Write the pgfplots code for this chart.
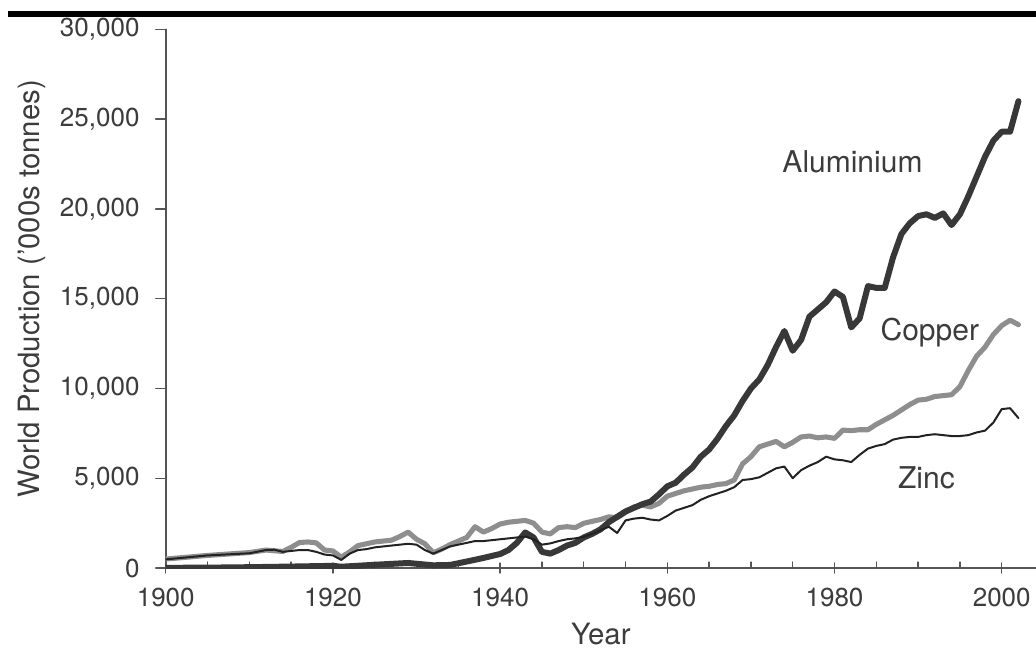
\documentclass[border=0pt]{standalone}
\usepackage{fontspec}
\setmainfont{TeX Gyre Heros}
\usepackage{pgfplots}
\pgfplotsset{compat=1.18}
\definecolor{axisgray}{HTML}{555555}
\definecolor{txtgray}{HTML}{3C3C3C}
\definecolor{alcol}{HTML}{383838}
\definecolor{cucol}{HTML}{8E8E8E}
\definecolor{zncol}{HTML}{222222}
\begin{document}
\begin{tikzpicture}
\useasboundingbox (-124.3pt,-62.25pt) rectangle (652.7pt,426pt);
\fill[black] (-118.3pt,413.5pt) rectangle (660pt,418pt);
\begin{axis}[
  at={(0,0)}, anchor=south west,
  scale only axis, width=652.7pt, height=404pt,
  xmin=1900, xmax=2004.1, ymin=0, ymax=30000,
  axis lines=left,
  axis line style={-, draw=axisgray, line width=1.2pt},
  xtick={1900,1920,...,2000}, minor x tick num=3,
  ytick={0,5000,...,30000},
  scaled y ticks=false, scaled x ticks=false,
  tick style={draw=axisgray, line width=1pt},
  major tick length=7.5pt, minor tick length=4.5pt,
  ytick align=outside, xtick align=center,
  minor x tick style={yshift=2.25pt},
  tick label style={font=\fontsize{19.5}{23}\selectfont, text=txtgray},
  /pgf/number format/assume math mode=true,
  xticklabel style={/pgf/number format/1000 sep=, anchor=north, inner sep=0pt, yshift=-11pt},
  yticklabel style={/pgf/number format/1000 sep={,}, anchor=east, inner sep=0pt, xshift=-12pt},
  xlabel={Year}, ylabel={World Production ('000s tonnes)},
  every axis x label/.style={at={([yshift=-57pt]axis description cs:0.5,0)}, anchor=base, inner sep=0pt, font=\fontsize{22}{26}\selectfont, text=txtgray},
  every axis y label/.style={at={([xshift=-94.3pt,yshift=7.3pt]axis description cs:0,0.5)}, anchor=base, rotate=90, font=\fontsize{22}{26}\selectfont, text=txtgray},
  line join=round, line cap=round,
]
% Copper
\addplot[cucol, line width=3.8pt, mark=none] coordinates {
(1900,500)(1905,700)(1910,860)(1912,1000)(1914,920)(1915,1150)(1916,1420)(1917,1450)(1918,1400)(1919,1000)
(1920,950)(1921,600)(1922,900)(1923,1250)(1924,1350)(1925,1450)(1926,1500)(1927,1550)(1928,1750)(1929,2000)
(1930,1600)(1931,1350)(1932,850)(1933,1050)(1934,1300)(1935,1500)(1936,1700)(1937,2300)(1938,2000)(1939,2200)
(1940,2450)(1941,2550)(1942,2600)(1943,2650)(1944,2500)(1945,2000)(1946,1900)(1947,2250)(1948,2300)(1949,2250)
(1950,2490)(1951,2600)(1952,2700)(1953,2850)(1954,2800)(1955,3100)(1956,3400)(1957,3500)(1958,3400)(1959,3600)
(1960,4000)(1961,4150)(1962,4300)(1963,4400)(1964,4500)(1965,4550)(1966,4650)(1967,4700)(1968,4900)(1969,5800)
(1970,6200)(1971,6750)(1972,6900)(1973,7050)(1974,6750)(1975,7000)(1976,7300)(1977,7350)(1978,7250)(1979,7300)
(1980,7220)(1981,7680)(1982,7650)(1983,7700)(1984,7700)(1985,8000)(1986,8250)(1987,8500)(1988,8800)(1989,9100)
(1990,9350)(1991,9400)(1992,9550)(1993,9600)(1994,9650)(1995,10100)(1996,11000)(1997,11800)(1998,12300)(1999,13000)
(2000,13500)(2001,13800)(2002,13550)
};
% Aluminium
\addplot[alcol, line width=4.5pt, mark=none] coordinates {
(1900,10)(1905,20)(1910,45)(1915,80)(1920,120)(1921,70)(1925,180)(1929,280)(1932,150)(1934,170)
(1936,360)(1938,560)(1940,780)(1941,1000)(1942,1400)(1943,1980)(1944,1700)(1945,900)(1946,800)(1947,1000)
(1948,1250)(1949,1400)(1950,1700)(1951,1900)(1952,2150)(1953,2550)(1954,2850)(1955,3150)(1956,3350)(1957,3550)
(1958,3700)(1959,4100)(1960,4550)(1961,4750)(1962,5200)(1963,5600)(1964,6200)(1965,6600)(1966,7200)(1967,7900)
(1968,8500)(1969,9300)(1970,10000)(1971,10500)(1972,11300)(1973,12300)(1974,13200)(1975,12100)(1976,12700)(1977,14000)
(1978,14400)(1979,14800)(1980,15400)(1981,15100)(1982,13400)(1983,13900)(1984,15700)(1985,15600)(1986,15600)(1987,17300)
(1988,18600)(1989,19200)(1990,19600)(1991,19700)(1992,19500)(1993,19750)(1994,19100)(1995,19700)(1996,20700)(1997,21800)
(1998,22900)(1999,23800)(2000,24300)(2001,24300)(2002,26000)
};
% Zinc
\addplot[zncol, line width=1.5pt, mark=none] coordinates {
(1900,480)(1905,700)(1910,820)(1912,1000)(1913,1020)(1914,900)(1915,950)(1916,1000)(1917,1000)(1918,900)
(1919,750)(1920,700)(1921,450)(1922,800)(1923,1000)(1924,1050)(1925,1150)(1926,1200)(1927,1250)(1928,1300)
(1929,1350)(1930,1300)(1931,1000)(1932,800)(1933,1000)(1934,1200)(1935,1300)(1936,1400)(1937,1500)(1938,1500)
(1939,1550)(1940,1600)(1941,1650)(1942,1700)(1943,1750)(1944,1600)(1945,1300)(1946,1370)(1947,1500)(1948,1600)
(1949,1650)(1950,1740)(1951,1900)(1952,2100)(1953,2300)(1954,1950)(1955,2650)(1956,2750)(1957,2800)(1958,2700)
(1959,2650)(1960,2900)(1961,3200)(1962,3350)(1963,3500)(1964,3800)(1965,4000)(1966,4150)(1967,4300)(1968,4500)
(1969,4900)(1970,4950)(1971,5050)(1972,5300)(1973,5550)(1974,5650)(1975,5000)(1976,5450)(1977,5700)(1978,5900)
(1979,6200)(1980,6050)(1981,6000)(1982,5900)(1983,6300)(1984,6650)(1985,6800)(1986,6900)(1987,7150)(1988,7250)
(1989,7300)(1990,7300)(1991,7400)(1992,7450)(1993,7400)(1994,7350)(1995,7350)(1996,7400)(1997,7550)(1998,7650)
(1999,8100)(2000,8850)(2001,8900)(2002,8350)
};
\node[anchor=base, font=\fontsize{22.5}{26}\selectfont, text=txtgray] at (axis cs:1982.15,22053) {Aluminium};
\node[anchor=base, font=\fontsize{22.5}{26}\selectfont, text=txtgray] at (axis cs:1991.4,12697) {Copper};
\node[anchor=base, font=\fontsize{22.5}{26}\selectfont, text=txtgray] at (axis cs:1991.0,4438) {Zinc};
\end{axis}
\end{tikzpicture}
\end{document}
